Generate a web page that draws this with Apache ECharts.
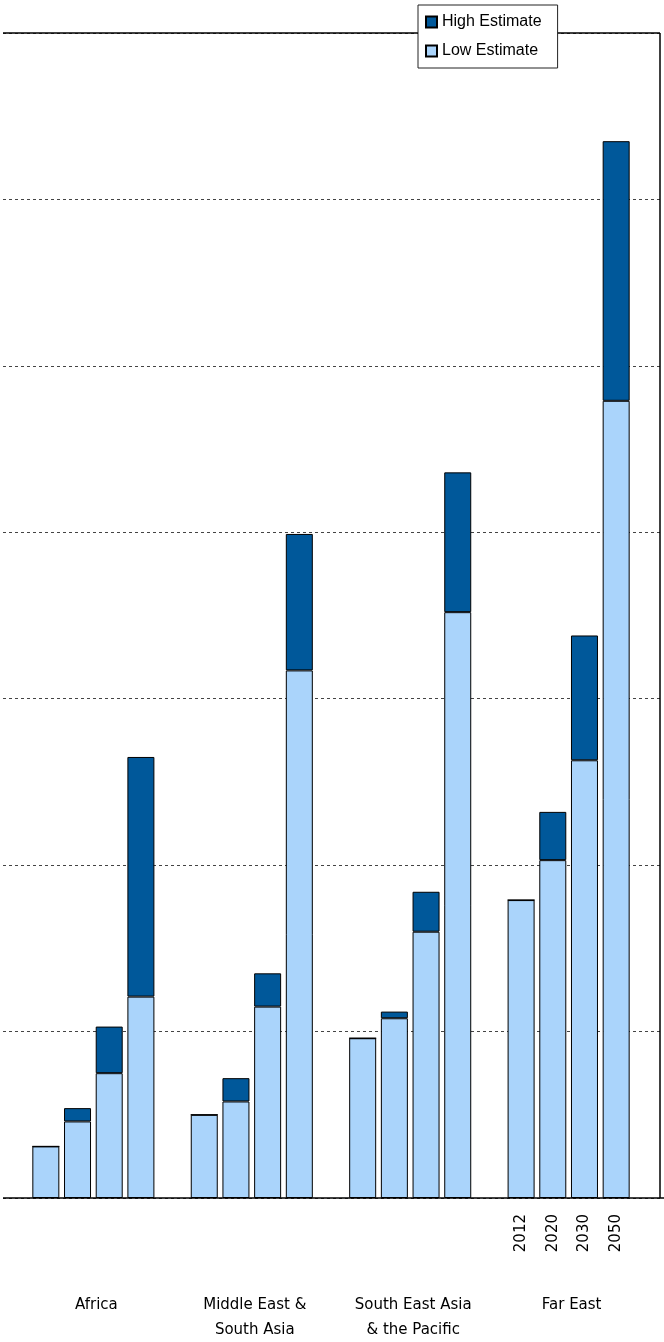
<!DOCTYPE html>
<html>
<head>
<meta charset="utf-8">
<script src="https://cdn.jsdelivr.net/npm/echarts@6/dist/echarts.min.js"></script>
<style>html,body{margin:0;padding:0;background:#fff}#c{width:664px;height:1342px}</style>
</head>
<body>
<div id="c"></div>
<script>
// regions and years; blanks separate the groups
var regions = ["Africa", "Middle East &\nSouth Asia", "South East Asia\n& the Pacific", "Far East"];
var slots = ["2012","2020","2030","2050","", "2012","2020","2030","2050","", "2012","2020","2030","2050","", "2012","2020","2030","2050"];
// low estimate and the extra for the high estimate (stacked)
var lowEstimate = [0.31, 0.46, 0.75, 1.21, null, 0.50, 0.58, 1.15, 3.17, null, 0.96, 1.08, 1.60, 3.52, null, 1.79, 2.03, 2.63, 4.79];
var highExtra   = [0,    0.08, 0.28, 1.44, null, 0,    0.14, 0.20, 0.82, null, 0,    0.04, 0.24, 0.84, null, 0,    0.29, 0.75, 1.56];

(function () {
  var chart = echarts.init(document.getElementById("c"));
  var font = "DejaVu Sans";

  var option = {
    animation: false,
    legend: {
      orient: "vertical",
      left: 418, top: 5,
      padding: [9, 16, 9, 7],
      itemGap: 13,
      itemWidth: 11, itemHeight: 11,
      icon: "rect",
      borderColor: "#222", borderWidth: 1,
      backgroundColor: "#fff",
      textStyle: { fontFamily: "Liberation Sans", fontSize: 16, color: "#000" },
      data: ["High Estimate", "Low Estimate"]
    },
    grid: [
      { left: 30, right: 32, top: 33, bottom: 144 },
      { left: 3, right: 4, top: 33, bottom: 144 }
    ],
    xAxis: [
      {
        type: "category", gridIndex: 0, data: slots,
        axisLine: { show: false }, axisTick: { show: false },
        axisLabel: {
          rotate: 90, margin: 16, fontFamily: font, fontSize: 15, color: "#000",
          interval: 0,
          formatter: function (v, i) { return i >= 15 ? v : ""; }
        }
      },
      { type: "value", gridIndex: 1, show: false }
    ],
    yAxis: [
      { type: "value", gridIndex: 0, min: 0, max: 7, interval: 1, show: false },
      {
        type: "value", gridIndex: 1, min: 0, max: 7, interval: 1,
        axisLine: { show: false }, axisTick: { show: false }, axisLabel: { show: false },
        splitLine: { lineStyle: { type: [3, 3], color: "#444", width: 1 } }
      }
    ],
    series: [
      {
        name: "Low Estimate", type: "bar", stack: "e", data: lowEstimate,
        barWidth: 27, xAxisIndex: 0, yAxisIndex: 0,
        itemStyle: { color: "#aad4fb", borderColor: "#000", borderWidth: 1 }
      },
      {
        name: "High Estimate", type: "bar", stack: "e", data: highExtra,
        barWidth: 27, xAxisIndex: 0, yAxisIndex: 0,
        itemStyle: { color: "#00589a", borderColor: "#000", borderWidth: 1 }
      }
    ]
  };
  chart.setOption(option);

  // frame lines and region labels
  var g = [];
  var yTop = 33, yBottom = 1198;
  g.push({ type: "line", shape: { x1: 3, y1: yTop, x2: 660, y2: yTop }, style: { stroke: "#000", lineWidth: 1.5 }, z: 0 });
  g.push({ type: "line", shape: { x1: 660, y1: yTop, x2: 660, y2: yBottom }, style: { stroke: "#000", lineWidth: 1.5 }, z: 0 });
  g.push({ type: "line", shape: { x1: 3, y1: yBottom, x2: 664, y2: yBottom }, style: { stroke: "#000", lineWidth: 1.5 }, z: 10 });
  regions.forEach(function (r, i) {
    var a = chart.convertToPixel({ xAxisIndex: 0 }, i * 5);
    var b = chart.convertToPixel({ xAxisIndex: 0 }, i * 5 + 3);
    g.push({
      type: "text", x: (a + b) / 2 + 3, y: 1293,
      style: { text: r, fontFamily: font, fontSize: 15, fill: "#000", align: "center", lineHeight: 25 }
    });
  });
  chart.setOption({ graphic: g });
})();
</script>
</body>
</html>
